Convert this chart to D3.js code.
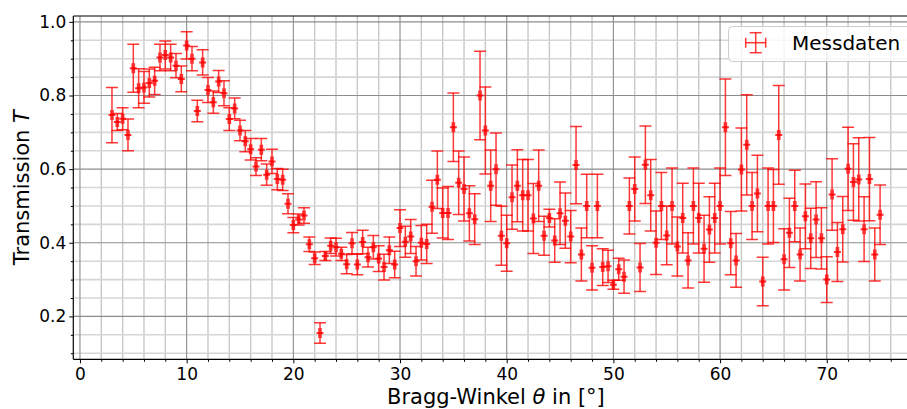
<!DOCTYPE html>
<html>
<head>
<meta charset="utf-8">
<script src="https://cdn.jsdelivr.net/npm/d3@7"></script>
<style>
  body { margin: 0; background: #fff; }
  text { font-family: "DejaVu Sans", sans-serif; }
</style>
</head>
<body>
<div id="chart"></div>
<script>
// Bragg angle in degrees
var angles = [3, 3.5, 4, 4.5, 5, 5.5, 6, 6.5, 7, 7.5, 8, 8.5, 9, 9.5, 10, 10.5, 11, 11.5, 12, 12.5,
  13, 13.5, 14, 14.5, 15, 15.5, 16, 16.5, 17, 17.5, 18, 18.5, 19, 19.5, 20, 20.5, 21, 21.5, 22, 22.5,
  23, 23.5, 24, 24.5, 25, 25.5, 26, 26.5, 27, 27.5, 28, 28.5, 29, 29.5, 30, 30.5, 31, 31.5, 32, 32.5,
  33, 33.5, 34, 34.5, 35, 35.5, 36, 36.5, 37, 37.5, 38, 38.5, 39, 39.5, 40, 40.5, 41, 41.5, 42, 42.5,
  43, 43.5, 44, 44.5, 45, 45.5, 46, 46.5, 47, 47.5, 48, 48.5, 49, 49.5, 50, 50.5, 51, 51.5, 52, 52.5,
  53, 53.5, 54, 54.5, 55, 55.5, 56, 56.5, 57, 57.5, 58, 58.5, 59, 59.5, 60, 60.5, 61, 61.5, 62, 62.5,
  63, 63.5, 64, 64.5, 65, 65.5, 66, 66.5, 67, 67.5, 68, 68.5, 69, 69.5, 70, 70.5, 71, 71.5, 72, 72.5,
  73, 73.5, 74, 74.5, 75];

// transmission T
var transmission = [0.747, 0.728, 0.737, 0.693, 0.874, 0.820, 0.822, 0.834, 0.840, 0.903, 0.910, 0.903, 0.881, 0.845, 0.936, 0.900, 0.758, 0.890, 0.815, 0.782,
  0.838, 0.806, 0.736, 0.765, 0.705, 0.676, 0.654, 0.607, 0.653, 0.585, 0.621, 0.573, 0.571, 0.506, 0.448, 0.463, 0.474, 0.396, 0.358, 0.155,
  0.364, 0.392, 0.388, 0.370, 0.342, 0.399, 0.341, 0.402, 0.361, 0.388, 0.357, 0.334, 0.380, 0.341, 0.440, 0.403, 0.417, 0.350, 0.400, 0.397,
  0.498, 0.571, 0.481, 0.481, 0.714, 0.563, 0.546, 0.480, 0.464, 0.800, 0.705, 0.555, 0.600, 0.419, 0.399, 0.524, 0.555, 0.529, 0.529, 0.466,
  0.555, 0.419, 0.467, 0.406, 0.480, 0.460, 0.417, 0.611, 0.368, 0.500, 0.332, 0.500, 0.334, 0.336, 0.286, 0.328, 0.308, 0.500, 0.546, 0.333,
  0.612, 0.529, 0.400, 0.500, 0.420, 0.500, 0.390, 0.467, 0.352, 0.500, 0.467, 0.384, 0.436, 0.467, 0.500, 0.714, 0.399, 0.352, 0.599, 0.666,
  0.500, 0.534, 0.295, 0.500, 0.500, 0.693, 0.355, 0.427, 0.500, 0.368, 0.472, 0.412, 0.463, 0.412, 0.300, 0.531, 0.375, 0.437, 0.601, 0.565,
  0.572, 0.437, 0.573, 0.368, 0.476];

// uncertainty of T
var transmissionErr = [0.075, 0.023, 0.030, 0.043, 0.065, 0.053, 0.043, 0.038, 0.037, 0.036, 0.038, 0.036, 0.033, 0.035, 0.037, 0.033, 0.029, 0.034, 0.034, 0.030,
  0.030, 0.034, 0.031, 0.028, 0.028, 0.029, 0.029, 0.024, 0.030, 0.029, 0.033, 0.029, 0.029, 0.027, 0.021, 0.015, 0.021, 0.020, 0.017, 0.028,
  0.012, 0.021, 0.024, 0.018, 0.026, 0.029, 0.028, 0.032, 0.027, 0.032, 0.035, 0.035, 0.036, 0.036, 0.050, 0.042, 0.046, 0.040, 0.047, 0.053,
  0.072, 0.078, 0.068, 0.072, 0.093, 0.086, 0.087, 0.075, 0.069, 0.120, 0.118, 0.097, 0.098, 0.080, 0.076, 0.087, 0.098, 0.097, 0.097, 0.095,
  0.097, 0.053, 0.024, 0.059, 0.085, 0.075, 0.071, 0.105, 0.072, 0.086, 0.060, 0.086, 0.050, 0.044, 0.012, 0.030, 0.045, 0.076, 0.087, 0.065,
  0.105, 0.097, 0.086, 0.091, 0.080, 0.103, 0.080, 0.095, 0.075, 0.103, 0.095, 0.091, 0.089, 0.095, 0.103, 0.131, 0.086, 0.073, 0.113, 0.136,
  0.091, 0.104, 0.066, 0.103, 0.099, 0.134, 0.083, 0.094, 0.097, 0.072, 0.088, 0.082, 0.103, 0.083, 0.062, 0.097, 0.080, 0.089, 0.113, 0.104,
  0.113, 0.088, 0.113, 0.072, 0.081];

var angleErr = 0.1;

var xMajor = [0, 10, 20, 30, 40, 50, 60, 70];
var xMinor = [2, 4, 6, 8, 12, 14, 16, 18, 22, 24, 26, 28, 32, 34, 36, 38, 42, 44, 46, 48, 52, 54, 56, 58, 62, 64, 66, 68, 72, 74, 76, 78];
var yMajor = [0.2, 0.4, 0.6, 0.8, 1.0];
var yMinor = [0.1, 0.15, 0.25, 0.3, 0.35, 0.45, 0.5, 0.55, 0.65, 0.7, 0.75, 0.85, 0.9, 0.95];

var data = angles.map(function(a, i) {
  return {a: a, t: transmission[i], e: transmissionErr[i]};
});

var W = 907, H = 409;
var plotLeft = 73.3, plotRight = 918.5, plotTop = 16, plotBottom = 359.3;

var x = d3.scaleLinear().domain([-0.625, 78.6]).range([plotLeft, plotRight]);
var y = d3.scaleLinear().domain([0.0835, 1.016]).range([plotBottom, plotTop]);

var svg = d3.select("#chart")
  .append("svg")
  .attr("width", W)
  .attr("height", H);

svg.append("clipPath").attr("id", "plot")
  .append("rect")
  .attr("x", plotLeft).attr("y", plotTop)
  .attr("width", plotRight - plotLeft).attr("height", plotBottom - plotTop);

// grid
var grid = svg.append("g").attr("clip-path", "url(#plot)");

grid.selectAll(".vminor").data(xMinor).enter().append("line")
  .attr("x1", function(d) { return x(d); }).attr("x2", function(d) { return x(d); })
  .attr("y1", plotTop).attr("y2", plotBottom)
  .attr("stroke", "#c8c8c8").attr("stroke-width", 1.4);

grid.selectAll(".hminor").data(yMinor).enter().append("line")
  .attr("y1", function(d) { return y(d); }).attr("y2", function(d) { return y(d); })
  .attr("x1", plotLeft).attr("x2", plotRight)
  .attr("stroke", "#d6d6d6").attr("stroke-width", 1.6);

grid.selectAll(".vmajor").data(xMajor).enter().append("line")
  .attr("x1", function(d) { return x(d); }).attr("x2", function(d) { return x(d); })
  .attr("y1", plotTop).attr("y2", plotBottom)
  .attr("stroke", "#8c8c8c").attr("stroke-width", 1.1);

grid.selectAll(".hmajor").data(yMajor).enter().append("line")
  .attr("y1", function(d) { return y(d); }).attr("y2", function(d) { return y(d); })
  .attr("x1", plotLeft).attr("x2", plotRight)
  .attr("stroke", "#8c8c8c").attr("stroke-width", 1.1);

// error bars
var red = "#ff0000", alpha = 0.78, lw = 1.5, cap = 6, xcap = 5;
var pts = svg.append("g").attr("clip-path", "url(#plot)")
  .selectAll(".pt").data(data).enter().append("g").attr("class", "pt");

function seg(sel, x1, y1, x2, y2, w) {
  sel.append("line")
    .attr("x1", x1).attr("y1", y1).attr("x2", x2).attr("y2", y2)
    .attr("stroke", red).attr("stroke-opacity", alpha).attr("stroke-width", w || lw);
}

pts.each(function(d) {
  var g = d3.select(this);
  var cx = x(d.a), cy = y(d.t), yt = y(d.t + d.e), yb = y(d.t - d.e);
  var xl = x(d.a - angleErr), xr = x(d.a + angleErr);
  seg(g, cx, yt, cx, yb);
  seg(g, cx - cap, yt, cx + cap, yt);
  seg(g, cx - cap, yb, cx + cap, yb);
  seg(g, xl, cy, xr, cy);
  seg(g, xl, cy - xcap, xl, cy + xcap);
  seg(g, xr, cy - xcap, xr, cy + xcap);
  seg(g, cx - 3.5, cy, cx + 3.5, cy, 2);
});

// axes
var xAxis = d3.axisBottom(x).tickValues(xMajor).tickSize(4).tickSizeOuter(0).tickPadding(5);
var xAxisMinor = d3.axisBottom(x).tickValues(xMinor).tickSize(2.5).tickSizeOuter(0).tickFormat("");
var yAxis = d3.axisLeft(y).tickValues(yMajor).tickSize(4).tickSizeOuter(0).tickPadding(3)
  .tickFormat(d3.format(".1f"));
var yAxisMinor = d3.axisLeft(y).tickValues(yMinor).tickSize(2.5).tickSizeOuter(0).tickFormat("");

function styleAxis(g) {
  g.select(".domain").remove();
  g.selectAll("line").attr("stroke", "#000").attr("stroke-width", 1);
  g.selectAll("text").attr("fill", "#000").style("font-size", "17px")
    .style("font-family", "'DejaVu Sans', sans-serif");
}

svg.append("g").attr("transform", "translate(0," + plotBottom + ")").call(xAxis).call(styleAxis);
svg.append("g").attr("transform", "translate(0," + plotBottom + ")").call(xAxisMinor).call(styleAxis);
svg.append("g").attr("transform", "translate(" + plotLeft + ",0)").call(yAxis).call(styleAxis);
svg.append("g").attr("transform", "translate(" + plotLeft + ",0)").call(yAxisMinor).call(styleAxis);

// spines
svg.append("line").attr("x1", plotLeft).attr("x2", plotRight).attr("y1", plotBottom).attr("y2", plotBottom)
  .attr("stroke", "#000").attr("stroke-width", 1.2);
svg.append("line").attr("x1", plotLeft).attr("x2", plotRight).attr("y1", plotTop).attr("y2", plotTop)
  .attr("stroke", "#000").attr("stroke-width", 1.2);
svg.append("line").attr("x1", plotLeft).attr("x2", plotLeft).attr("y1", plotTop).attr("y2", plotBottom)
  .attr("stroke", "#000").attr("stroke-width", 1.2);

// axis labels
var xLabel = svg.append("text")
  .attr("x", (plotLeft + plotRight) / 2).attr("y", 404)
  .attr("text-anchor", "middle")
  .style("font-size", "21px");
xLabel.append("tspan").text("Bragg-Winkel ");
xLabel.append("tspan").style("font-style", "italic").text("θ");
xLabel.append("tspan").text(" in [°]");

var yLabel = svg.append("text")
  .attr("transform", "translate(29," + ((plotTop + plotBottom) / 2) + ") rotate(-90)")
  .attr("text-anchor", "middle")
  .style("font-size", "21px");
yLabel.append("tspan").text("Transmission ");
yLabel.append("tspan").style("font-style", "italic").text("T");

// legend
var legend = svg.append("g").attr("id", "legend");
legend.append("rect")
  .attr("x", 728.5).attr("y", 26.5).attr("width", 200).attr("height", 35)
  .attr("rx", 4)
  .attr("fill", "#fff").attr("fill-opacity", 0.8)
  .attr("stroke", "#cccccc").attr("stroke-width", 1);

var lx = 755.7, ly = 42.7;
seg(legend, lx, ly - 10, lx, ly + 10);
seg(legend, lx - cap, ly - 10, lx + cap, ly - 10);
seg(legend, lx - cap, ly + 10, lx + cap, ly + 10);
seg(legend, lx - 10, ly, lx + 10, ly);
seg(legend, lx - 10, ly - xcap, lx - 10, ly + xcap);
seg(legend, lx + 10, ly - xcap, lx + 10, ly + xcap);

legend.append("text")
  .attr("x", 792).attr("y", 50)
  .style("font-size", "20px")
  .text("Messdaten");
</script>
</body>
</html>
